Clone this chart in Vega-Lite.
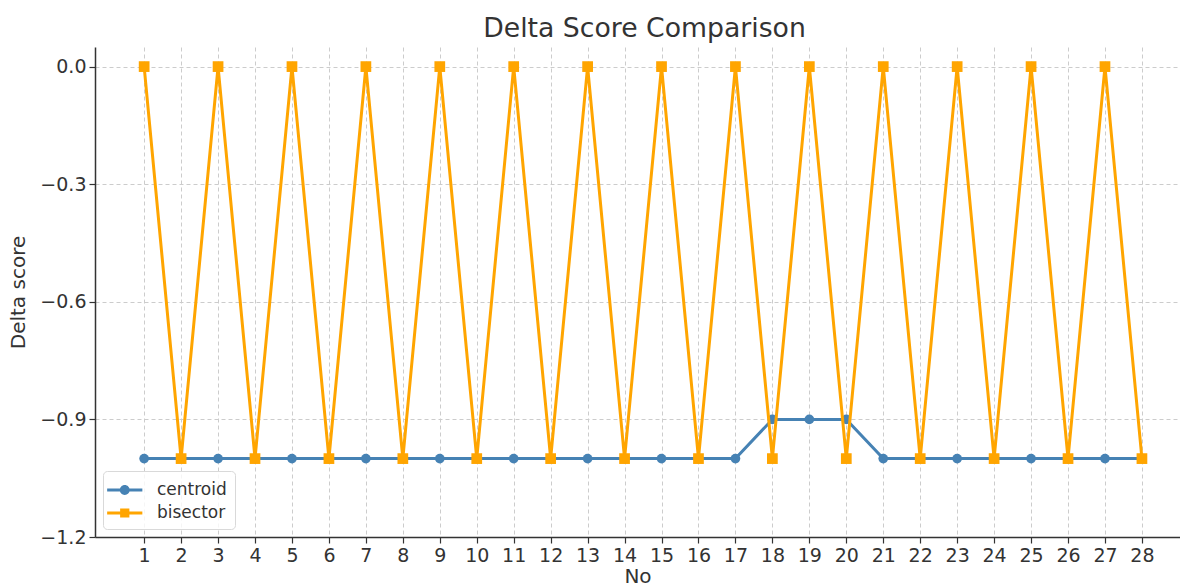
{
  "$schema": "https://vega.github.io/schema/vega-lite/v6.json",
  "width": 1085,
  "height": 490,
  "autosize": {"type": "none"},
  "padding": {"left": 95, "top": 47, "right": 0, "bottom": 49},
  "background": "white",
  "title": {"text": "Delta Score Comparison", "font": "DejaVu Sans", "fontSize": 26.7, "fontWeight": "normal", "color": "#333333", "offset": 10, "dy": 6, "dx": 7, "anchor": "middle"},
  "config": {
    "view": {"stroke": null},
    "font": "DejaVu Sans",
    "axis": {
      "labelFont": "DejaVu Sans", "labelFontSize": 19, "labelColor": "#333333",
      "titleFont": "DejaVu Sans", "titleFontSize": 20, "titleFontWeight": "normal", "titleColor": "#333333",
      "domainColor": "#333333", "domainWidth": 1.5, "tickColor": "#333333", "tickSize": 6, "tickWidth": 1.2,
      "gridColor": "#cccccc", "gridDash": [4, 3], "gridWidth": 1
    }
  },
  "data": {"values": [
    {"No": 1, "series": "centroid", "score": -1.0},
    {"No": 2, "series": "centroid", "score": -1.0},
    {"No": 3, "series": "centroid", "score": -1.0},
    {"No": 4, "series": "centroid", "score": -1.0},
    {"No": 5, "series": "centroid", "score": -1.0},
    {"No": 6, "series": "centroid", "score": -1.0},
    {"No": 7, "series": "centroid", "score": -1.0},
    {"No": 8, "series": "centroid", "score": -1.0},
    {"No": 9, "series": "centroid", "score": -1.0},
    {"No": 10, "series": "centroid", "score": -1.0},
    {"No": 11, "series": "centroid", "score": -1.0},
    {"No": 12, "series": "centroid", "score": -1.0},
    {"No": 13, "series": "centroid", "score": -1.0},
    {"No": 14, "series": "centroid", "score": -1.0},
    {"No": 15, "series": "centroid", "score": -1.0},
    {"No": 16, "series": "centroid", "score": -1.0},
    {"No": 17, "series": "centroid", "score": -1.0},
    {"No": 18, "series": "centroid", "score": -0.9},
    {"No": 19, "series": "centroid", "score": -0.9},
    {"No": 20, "series": "centroid", "score": -0.9},
    {"No": 21, "series": "centroid", "score": -1.0},
    {"No": 22, "series": "centroid", "score": -1.0},
    {"No": 23, "series": "centroid", "score": -1.0},
    {"No": 24, "series": "centroid", "score": -1.0},
    {"No": 25, "series": "centroid", "score": -1.0},
    {"No": 26, "series": "centroid", "score": -1.0},
    {"No": 27, "series": "centroid", "score": -1.0},
    {"No": 28, "series": "centroid", "score": -1.0},
    {"No": 1, "series": "bisector", "score": 0.0},
    {"No": 2, "series": "bisector", "score": -1.0},
    {"No": 3, "series": "bisector", "score": 0.0},
    {"No": 4, "series": "bisector", "score": -1.0},
    {"No": 5, "series": "bisector", "score": 0.0},
    {"No": 6, "series": "bisector", "score": -1.0},
    {"No": 7, "series": "bisector", "score": 0.0},
    {"No": 8, "series": "bisector", "score": -1.0},
    {"No": 9, "series": "bisector", "score": 0.0},
    {"No": 10, "series": "bisector", "score": -1.0},
    {"No": 11, "series": "bisector", "score": 0.0},
    {"No": 12, "series": "bisector", "score": -1.0},
    {"No": 13, "series": "bisector", "score": 0.0},
    {"No": 14, "series": "bisector", "score": -1.0},
    {"No": 15, "series": "bisector", "score": 0.0},
    {"No": 16, "series": "bisector", "score": -1.0},
    {"No": 17, "series": "bisector", "score": 0.0},
    {"No": 18, "series": "bisector", "score": -1.0},
    {"No": 19, "series": "bisector", "score": 0.0},
    {"No": 20, "series": "bisector", "score": -1.0},
    {"No": 21, "series": "bisector", "score": 0.0},
    {"No": 22, "series": "bisector", "score": -1.0},
    {"No": 23, "series": "bisector", "score": 0.0},
    {"No": 24, "series": "bisector", "score": -1.0},
    {"No": 25, "series": "bisector", "score": 0.0},
    {"No": 26, "series": "bisector", "score": -1.0},
    {"No": 27, "series": "bisector", "score": 0.0},
    {"No": 28, "series": "bisector", "score": -1.0}
  ]},
  "encoding": {
    "x": {"field": "No", "type": "quantitative",
      "scale": {"domain": [-0.33, 29.03], "nice": false, "zero": false},
      "axis": {"values": [1,2,3,4,5,6,7,8,9,10,11,12,13,14,15,16,17,18,19,20,21,22,23,24,25,26,27,28], "title": "No", "labelPadding": 3, "titlePadding": 1, "labelFlush": false}},
    "y": {"field": "score", "type": "quantitative",
      "scale": {"domain": [-1.2, 0.05], "nice": false, "zero": false},
      "axis": {"values": [-1.2, -0.9, -0.6, -0.3, 0.0], "format": ".1f", "title": "Delta score", "labelPadding": 3, "titlePadding": 11, "labelFlush": false}},
    "color": {"field": "series", "type": "nominal",
      "scale": {"domain": ["centroid", "bisector"], "range": ["#4682B4", "#FFA500"]}}
  },
  "layer": [
    {"transform": [{"filter": "datum.series === 'centroid'"}],
     "mark": {"type": "line", "strokeWidth": 3, "clip": true}},
    {"transform": [{"filter": "datum.series === 'centroid'"}],
     "mark": {"type": "point", "shape": "circle", "filled": true, "opacity": 1, "size": 95, "clip": true}},
    {"transform": [{"filter": "datum.series === 'bisector'"}],
     "mark": {"type": "line", "strokeWidth": 3, "clip": true}},
    {"transform": [{"filter": "datum.series === 'bisector'"}],
     "mark": {"type": "point", "shape": "square", "filled": true, "opacity": 1, "size": 115, "clip": true},
     "encoding": {
       "color": {"field": "series", "type": "nominal",
         "legend": {
           "title": null, "orient": "none", "legendX": 8, "legendY": 424,
           "labelFont": "DejaVu Sans", "labelFontSize": 17, "labelColor": "#333333",
           "symbolSize": 484, "symbolStrokeWidth": 0, "symbolOpacity": 1,
           "rowPadding": 4, "labelOffset": 24, "padding": 8,
           "fillColor": "rgba(255,255,255,0.8)", "strokeColor": "#d9d9d9", "cornerRadius": 4,
           "encode": {"symbols": {"update": {
             "shape": {"signal": "datum.value === 'centroid' ? 'M-1.35,-0.13L1.85,-0.13L1.85,0.13L-1.35,0.13Z M0.7,0A0.45,0.45 0 1,1 -0.2,0A0.45,0.45 0 1,1 0.7,0Z' : 'M-1.35,-0.13L1.85,-0.13L1.85,0.13L-1.35,0.13Z M-0.17,-0.42L0.67,-0.42L0.67,0.42L-0.17,0.42Z'"},
             "fillOpacity": {"value": 1},
             "strokeWidth": {"value": 0}
           }}}
         }}
     }}
  ]
}
